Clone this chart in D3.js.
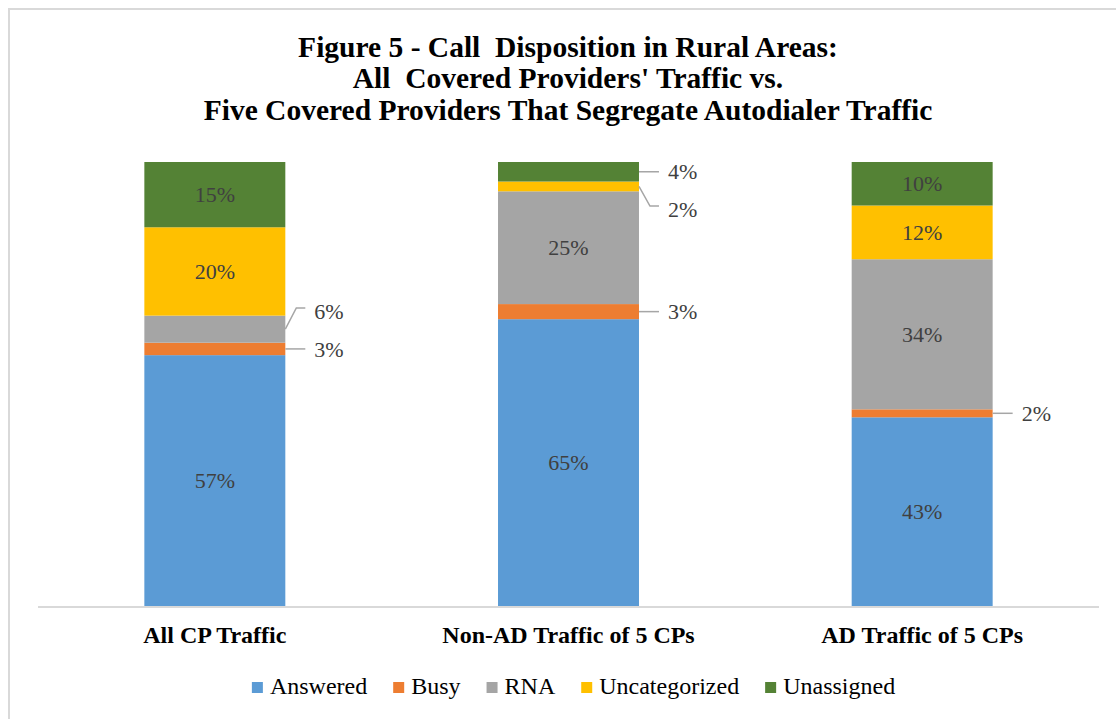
<!DOCTYPE html>
<html>
<head>
<meta charset="utf-8">
<script src="https://cdnjs.cloudflare.com/ajax/libs/d3/7.8.5/d3.min.js"></script>
<style>
  body { margin: 0; background: #fff; }
  svg { display: block; font-family: "Liberation Serif", "Times New Roman", serif; }
</style>
</head>
<body>
<svg id="chart"></svg>
<script>
// data (percent of calls)
const categories = ["All CP Traffic", "Non-AD Traffic of 5 CPs", "AD Traffic of 5 CPs"];
const series = ["Answered", "Busy", "RNA", "Uncategorized", "Unassigned"];
const answered      = [56.5, 64.6, 42.5];
const busy          = [2.8, 3.4, 1.8];
const rna           = [6.1, 25.4, 33.8];
const uncategorized = [19.9, 2.2, 12.1];
const unassigned    = [14.7, 4.4, 9.8];
const colors = ["#5b9bd5", "#ed7d31", "#a5a5a5", "#ffc000", "#548235"];
const titleLines = [
    "Figure 5 - Call  Disposition in Rural Areas:",
    "All  Covered Providers' Traffic vs.",
    "Five Covered Providers That Segregate Autodialer Traffic"
];

const width = 1116, height = 719;
const values = [answered, busy, rna, uncategorized, unassigned];

const table = categories.map((c, i) => {
    const row = { cat: c };
    series.forEach((s, j) => { row[s] = values[j][i]; });
    return row;
});

const svg = d3.select("#chart").attr("width", width).attr("height", height);

svg.append("rect").attr("width", width).attr("height", height).attr("fill", "#fff");

// outer frame (only top and left are visible in the picture)
svg.append("path")
    .attr("d", `M9,${height} V9 H${width}`)
    .attr("fill", "none")
    .attr("stroke", "#d9d9d9")
    .attr("stroke-width", 2);

// title
svg.append("g")
    .selectAll("text")
    .data(titleLines)
    .join("text")
    .attr("x", 568)
    .attr("y", (d, i) => 57 + i * 31.3)
    .attr("text-anchor", "middle")
    .attr("font-size", 29.5)
    .attr("font-weight", "bold")
    .attr("fill", "#000")
    .style("white-space", "pre")
    .text(d => d);

const x = d3.scaleBand()
    .domain(categories)
    .range([38, 1099])
    .paddingInner(0.6014)
    .paddingOuter(0.3007);

const y = d3.scaleLinear()
    .domain([0, 100])
    .range([606, 162]);

const stacked = d3.stack().keys(series)(table);

const layers = svg.append("g")
    .selectAll("g")
    .data(stacked)
    .join("g")
    .attr("fill", (d, i) => colors[i]);

layers.selectAll("rect")
    .data(d => d)
    .join("rect")
    .attr("x", d => x(d.data.cat))
    .attr("y", d => y(d[1]))
    .attr("width", x.bandwidth())
    .attr("height", d => y(d[0]) - y(d[1]));

// baseline
svg.append("line")
    .attr("x1", 38).attr("x2", 1099)
    .attr("y1", 607).attr("y2", 607)
    .attr("stroke", "#d9d9d9")
    .attr("stroke-width", 2);

// category labels
const xAxis = svg.append("g")
    .attr("transform", "translate(0,607)")
    .call(d3.axisBottom(x).tickSize(0).tickPadding(0));
xAxis.select(".domain").remove();
xAxis.selectAll("text")
    .attr("dy", null)
    .attr("y", 36)
    .attr("font-family", "Liberation Serif, Times New Roman, serif")
    .attr("font-size", 24)
    .attr("font-weight", "bold")
    .attr("fill", "#000");

// data labels
const fmt = v => Math.round(v) + "%";
const labelG = svg.append("g")
    .attr("font-size", 22)
    .attr("fill", "#404040");

const smallCut = 7;
const gap = 38;
const topLimit = 171;

categories.forEach((cat, ci) => {
    const segs = stacked.map((layer, si) => ({
        v: layer[ci].data[series[si]],
        mid: (y(layer[ci][0]) + y(layer[ci][1])) / 2
    }));

    // labels that fit inside the bar
    segs.filter(s => s.v >= smallCut).forEach(s => {
        labelG.append("text")
            .attr("x", x(cat) + x.bandwidth() / 2)
            .attr("y", s.mid)
            .attr("dy", "0.35em")
            .attr("text-anchor", "middle")
            .text(fmt(s.v));
    });

    // small ones go outside with leader lines
    const outs = segs.filter(s => s.v < smallCut);
    let prev = Infinity;
    outs.forEach(s => { s.ly = Math.min(s.mid, prev - gap); prev = s.ly; });
    for (let k = outs.length - 1; k >= 0; k--) {
        const lim = k === outs.length - 1 ? topLimit : outs[k + 1].ly + gap;
        outs[k].ly = Math.max(outs[k].ly, lim);
    }

    const right = x(cat) + x.bandwidth();
    outs.forEach(s => {
        const ly = Math.abs(s.ly - s.mid) < 1 ? s.mid : s.ly - 3;
        svg.append("path")
            .attr("d", d3.line()([[right, s.mid], [right + 11, ly], [right + 20, ly]]))
            .attr("fill", "none")
            .attr("stroke", "#a6a6a6")
            .attr("stroke-width", 1.5);
        labelG.append("text")
            .attr("x", right + 29)
            .attr("y", s.ly)
            .attr("dy", "0.35em")
            .text(fmt(s.v));
    });
});

// legend
const legend = svg.append("g").attr("font-size", 24).attr("fill", "#000");
const items = legend.selectAll("g")
    .data(series)
    .join("g");
items.append("rect")
    .attr("width", 11).attr("height", 11)
    .attr("y", -12)
    .attr("fill", (d, i) => colors[i]);
items.append("text")
    .attr("x", 18)
    .text(d => d);

let lx = 0;
items.each(function () {
    const w = 18 + d3.select(this).select("text").node().getComputedTextLength();
    d3.select(this).attr("transform", `translate(${lx},0)`);
    lx += w + 26;
});
const totalW = lx - 26;
legend.attr("transform", `translate(${573.5 - totalW / 2},694)`);
</script>
</body>
</html>
